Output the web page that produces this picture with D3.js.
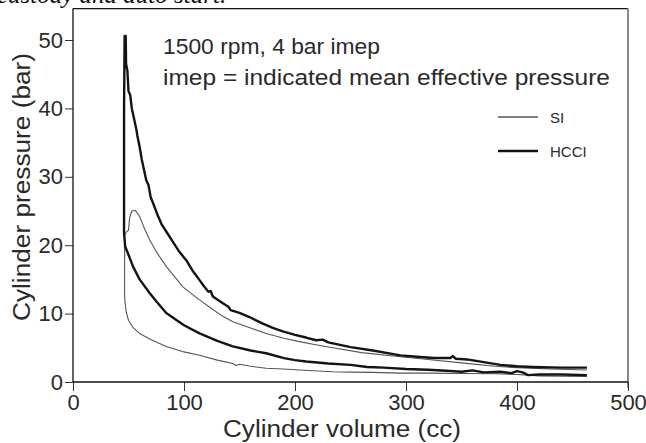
<!DOCTYPE html>
<html>
<head>
<meta charset="utf-8">
<script src="https://cdn.jsdelivr.net/npm/d3@7"></script>
<style>
  html, body { margin: 0; padding: 0; background: #fff; overflow: hidden; }
  svg { display: block; }
</style>
</head>
<body>
<svg id="chart" width="646" height="443"></svg>
<script>
// ---- Data (cylinder volume in cc, cylinder pressure in bar) ----
const xTicks = [0, 100, 200, 300, 400, 500];
const yTicks = [0, 10, 20, 30, 40, 50];
const seriesNames = ["SI", "HCCI"];

// SI: compression stroke (right to left), then combustion + expansion
const siCompression = [[463,0.8],[440,0.85],[420,0.9],[400,1.1],[380,1.2],[350,1.25],[320,1.3],[295,1.3],[270,1.4],[250,1.45],[234,1.5],[204,1.75],[190,1.9],[174,2.0],[160,2.3],[150,2.6],[147,2.4],[144,2.7],[130,3.2],[114,3.9],[100,4.4],[84,5.2],[70,6.2],[60,7.1],[54,8.0],[50,9.0],[48,10.2],[47,11.5],[46.5,12.5]];
const siExpansion = [[46.5,21.5],[48,21.9],[50,22.2],[51,24],[53,25],[56,25.1],[58,24.7],[60,24.2],[64,22.6],[69,20.8],[76,18.8],[84,16.9],[92,15.3],[99,13.9],[106,13.0],[114,12.0],[125,10.7],[135,9.6],[144,8.8],[160,7.9],[174,7.1],[190,6.4],[204,5.9],[220,5.4],[234,5.0],[260,4.3],[295,3.7],[320,3.3],[350,2.8],[380,2.3],[400,2.1],[430,1.9],[463,1.75]];

// HCCI: compression stroke (right to left), then combustion + expansion
const hcciCompression = [[463,1.0],[440,1.1],[420,1.1],[410,1.0],[405,1.4],[400,1.6],[395,1.3],[385,1.5],[370,1.4],[360,1.7],[350,1.5],[340,1.6],[320,1.8],[300,1.9],[280,2.1],[265,2.2],[250,2.5],[230,2.7],[210,3.0],[200,3.2],[190,3.5],[174,4.2],[160,4.6],[144,5.2],[130,6.0],[114,7.1],[100,8.3],[84,10.1],[75,11.8],[69,13.0],[60,15.0],[54,16.9],[50,18.6],[47,19.8],[46,21.8]];
const hcciExpansion = [[46,30],[46,40],[46.5,50.6],[47.5,50.6],[47.8,46.5],[49,45.5],[50,42.5],[51.5,42],[53,40],[55,38.5],[57,37],[58,36],[60,34.4],[62,32.5],[64,31],[66,29.5],[68,28.8],[70,27],[72,26.2],[76,24.5],[80,23],[84,22],[90,20.5],[96,19],[102,17.8],[108,16.2],[110,15.8],[114,14.9],[118,14],[122,13.2],[124,13.3],[126,12.5],[135,11.5],[140,11.0],[142,10.5],[150,10.1],[159,9.5],[170,8.6],[180,7.9],[189,7.4],[200,6.9],[210,6.5],[219,6.1],[225,6.2],[230,5.8],[250,5.1],[270,4.6],[295,3.9],[310,3.7],[325,3.5],[340,3.5],[342,3.8],[345,3.4],[355,3.3],[370,2.9],[385,2.5],[400,2.3],[414,2.2],[440,2.1],[463,2.1]];

const annotation1 = "1500 rpm, 4 bar imep";
const annotation2 = "imep = indicated mean effective pressure";
const xTitle = "Cylinder volume (cc)";
const yTitle = "Cylinder pressure (bar)";
const topFragment = "custody and auto start.";

// ---- Drawing ----
const svg = d3.select("#chart");
const font = "'Liberation Sans', Arial, sans-serif";
const textColor = "#2a2a2a";

const x = d3.scaleLinear().domain([0, 500]).range([73, 628]);
const y = d3.scaleLinear().domain([0, 50]).range([382, 40]);
const yTop = 54.6;

// cropped line from preceding document text
svg.append("text")
  .attr("x", -3).attr("y", 3)
  .attr("font-family", "'Liberation Serif', 'Times New Roman', serif")
  .attr("font-style", "italic")
  .attr("font-size", 25)
  .attr("fill", "#111")
  .text(topFragment);

// frame: top (black) and right (gray)
svg.append("line").attr("x1", x(0)).attr("x2", x(500)).attr("y1", y(yTop)).attr("y2", y(yTop))
  .attr("stroke", "#111").attr("stroke-width", 1.3);
svg.append("line").attr("x1", x(500)).attr("x2", x(500)).attr("y1", y(yTop)).attr("y2", y(0) + 6)
  .attr("stroke", "#888").attr("stroke-width", 2);

// axes
const xAxis = svg.append("g").attr("transform", `translate(0,${y(0)})`)
  .call(d3.axisBottom(x).tickValues(xTicks).tickSize(9).tickPadding(3).tickSizeOuter(0));
const yAxis = svg.append("g").attr("transform", `translate(${x(0)},0)`)
  .call(d3.axisLeft(y).tickValues(yTicks).tickSize(8).tickPadding(2).tickSizeOuter(0));
svg.append("line").attr("x1", x(0)).attr("x2", x(0)).attr("y1", y(yTop)).attr("y2", y(0))
  .attr("stroke", "#111").attr("stroke-width", 1.3);
svg.append("line").attr("x1", x(0)).attr("x2", x(500)).attr("y1", y(0)).attr("y2", y(0))
  .attr("stroke", "#111").attr("stroke-width", 1.3);

[xAxis, yAxis].forEach(g => {
  g.select(".domain").remove();
  g.selectAll(".tick line").attr("stroke", "#333").attr("stroke-width", 1);
  g.selectAll(".tick text").attr("font-family", font).attr("font-size", 22).attr("fill", textColor);
});

// titles
svg.append("text").attr("x", 342).attr("y", 437).attr("text-anchor", "middle")
  .attr("font-family", font).attr("font-size", 23).attr("fill", textColor)
  .attr("textLength", 238).attr("lengthAdjust", "spacingAndGlyphs").text(xTitle);
svg.append("text").attr("transform", "translate(30,187) rotate(-90)").attr("text-anchor", "middle")
  .attr("font-family", font).attr("font-size", 23).attr("fill", textColor)
  .attr("textLength", 268).attr("lengthAdjust", "spacingAndGlyphs").text(yTitle);

// annotations
svg.append("text").attr("x", 163).attr("y", 54)
  .attr("font-family", font).attr("font-size", 22).attr("fill", textColor)
  .attr("textLength", 217).attr("lengthAdjust", "spacingAndGlyphs").text(annotation1);
svg.append("text").attr("x", 163).attr("y", 85)
  .attr("font-family", font).attr("font-size", 22).attr("fill", textColor)
  .attr("textLength", 447).attr("lengthAdjust", "spacingAndGlyphs").text(annotation2);

// curves
const line = d3.line().x(d => x(d[0])).y(d => y(d[1])).curve(d3.curveLinear);
const styles = {
  SI: { stroke: "#555", width: 1.1 },
  HCCI: { stroke: "#141414", width: 2.4 }
};
const loops = [
  { name: "SI", pts: siCompression.concat(siExpansion) },
  { name: "HCCI", pts: hcciCompression.concat(hcciExpansion) }
];
svg.selectAll("path.loop").data(loops).enter().append("path")
  .attr("class", "loop")
  .attr("d", d => line(d.pts))
  .attr("fill", "none")
  .attr("stroke", d => styles[d.name].stroke)
  .attr("stroke-width", d => styles[d.name].width)
  .attr("stroke-linejoin", "round");

// legend
const legend = svg.append("g");
seriesNames.forEach((name, i) => {
  const ly = 117 + i * 34;
  legend.append("line").attr("x1", 498).attr("x2", 538).attr("y1", ly).attr("y2", ly)
    .attr("stroke", styles[name].stroke).attr("stroke-width", styles[name].width + 0.3);
  legend.append("text").attr("x", 550).attr("y", ly + 6)
    .attr("font-family", font).attr("font-size", 15).attr("fill", textColor).text(name);
});
</script>
</body>
</html>
